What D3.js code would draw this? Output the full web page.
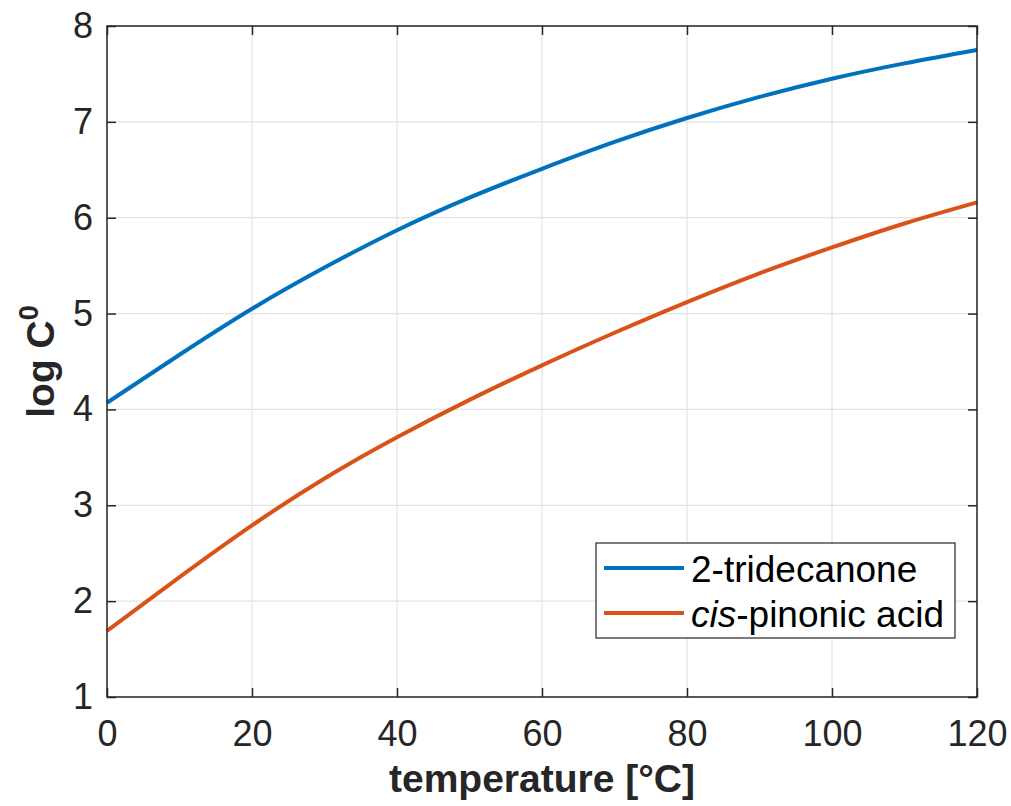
<!DOCTYPE html>
<html>
<head>
<meta charset="utf-8">
<script src="https://cdn.jsdelivr.net/npm/d3@7"></script>
<style>
  body { margin: 0; background: #fff; }
  svg { display: block; }
  text { font-family: "Liberation Sans", Arial, sans-serif; }
</style>
</head>
<body>
<div class="chart"></div>
<script>
const width = 1011
const height = 806
const margin = {top: 26, right: 34, bottom: 109, left: 107}

// temperature [°C]
const temps = [0, 10, 20, 30, 40, 50, 60, 70, 80, 90, 100, 110, 120]
// log C0
const tridecanone = [4.07, 4.57, 5.05, 5.48, 5.87, 6.21, 6.51, 6.79, 7.04, 7.26, 7.45, 7.61, 7.75]
const pinonic = [1.69, 2.25, 2.79, 3.28, 3.71, 4.10, 4.46, 4.80, 5.12, 5.42, 5.69, 5.94, 6.16]

const xTicks = [0, 20, 40, 60, 80, 100, 120]
const yTicks = [1, 2, 3, 4, 5, 6, 7, 8]

const series = [
    {name: '2-tridecanone', values: tridecanone, color: '#0072BD'},
    {name: 'cis-pinonic acid', values: pinonic, color: '#D95319'}
]

const svg = d3.select('.chart')
    .append('svg')
        .attr('width', width)
        .attr('height', height)

const x = d3.scaleLinear().domain([0, 120]).range([margin.left, width - margin.right])
const y = d3.scaleLinear().domain([1, 8]).range([height - margin.bottom, margin.top])

const axisColor = '#262626'

// grid
svg.append('g')
    .selectAll('line')
    .data(xTicks)
    .join('line')
        .attr('x1', d => x(d)).attr('x2', d => x(d))
        .attr('y1', y(1)).attr('y2', y(8))
        .attr('stroke', '#e3e3e3')
        .attr('stroke-width', 1.2)
svg.append('g')
    .selectAll('line')
    .data(yTicks)
    .join('line')
        .attr('y1', d => y(d)).attr('y2', d => y(d))
        .attr('x1', x(0)).attr('x2', x(120))
        .attr('stroke', '#e3e3e3')
        .attr('stroke-width', 1.2)

// lines
const line = d3.line()
    .x((d, i) => x(temps[i]))
    .y(d => y(d))
    .curve(d3.curveNatural)

svg.append('g')
    .selectAll('path')
    .data(series)
    .join('path')
        .attr('d', d => line(d.values))
        .attr('fill', 'none')
        .attr('stroke', d => d.color)
        .attr('stroke-width', 4)

// axes with inward ticks, box on
const tickLen = 9
const axStyle = g => {
    g.select('.domain').remove()
    g.selectAll('.tick line').attr('stroke', axisColor).attr('stroke-width', 1.5)
    g.selectAll('.tick text')
        .attr('fill', axisColor)
        .style('font-size', '36px')
}
svg.append('g')
    .attr('transform', `translate(0,${y(1)})`)
    .call(d3.axisBottom(x).tickValues(xTicks).tickSize(-tickLen).tickPadding(23).tickFormat(d3.format('d')))
    .call(axStyle)
svg.append('g')
    .attr('transform', `translate(0,${y(8)})`)
    .call(d3.axisTop(x).tickValues(xTicks).tickSize(-tickLen).tickFormat(''))
    .call(axStyle)
svg.append('g')
    .attr('transform', `translate(${x(0)},0)`)
    .call(d3.axisLeft(y).tickValues(yTicks).tickSize(-tickLen).tickPadding(14).tickFormat(d3.format('d')))
    .call(axStyle)
svg.append('g')
    .attr('transform', `translate(${x(120)},0)`)
    .call(d3.axisRight(y).tickValues(yTicks).tickSize(-tickLen).tickFormat(''))
    .call(axStyle)

svg.append('rect')
    .attr('x', x(0)).attr('y', y(8))
    .attr('width', x(120) - x(0)).attr('height', y(1) - y(8))
    .attr('fill', 'none')
    .attr('stroke', axisColor)
    .attr('stroke-width', 1.5)

// axis labels
svg.append('text')
    .attr('x', (x(0) + x(120)) / 2)
    .attr('y', 792)
    .attr('text-anchor', 'middle')
    .attr('fill', axisColor)
    .style('font-size', '39px')
    .style('font-weight', 'bold')
    .text('temperature [°C]')

const yl = svg.append('text')
    .attr('transform', `translate(54,${(y(1) + y(8)) / 2}) rotate(-90)`)
    .attr('text-anchor', 'middle')
    .attr('fill', axisColor)
    .style('font-size', '39px')
    .style('font-weight', 'bold')
yl.append('tspan').text('log C')
yl.append('tspan').attr('dy', -16).style('font-size', '27px').text('0')

// legend
const lg = svg.append('g')
lg.append('rect')
    .attr('x', 596).attr('y', 543)
    .attr('width', 359).attr('height', 95)
    .attr('fill', '#fff')
    .attr('stroke', axisColor)
    .attr('stroke-width', 1.2)

const items = lg.selectAll('g.item')
    .data(series)
    .join('g')
        .attr('class', 'item')
        .attr('transform', (d, i) => `translate(604,${568 + i * 45})`)
items.append('line')
    .attr('x1', 0).attr('x2', 80)
    .attr('stroke', d => d.color)
    .attr('stroke-width', 4)
const lt = items.append('text')
    .attr('x', 87)
    .attr('y', 14)
    .attr('fill', '#000')
    .style('font-size', '37px')
lt.filter((d, i) => i === 0).text(d => d.name)
lt.filter((d, i) => i === 1).each(function(d) {
    const t = d3.select(this)
    t.append('tspan').style('font-style', 'italic').text('cis')
    t.append('tspan').text('-pinonic acid')
})
</script>
</body>
</html>
